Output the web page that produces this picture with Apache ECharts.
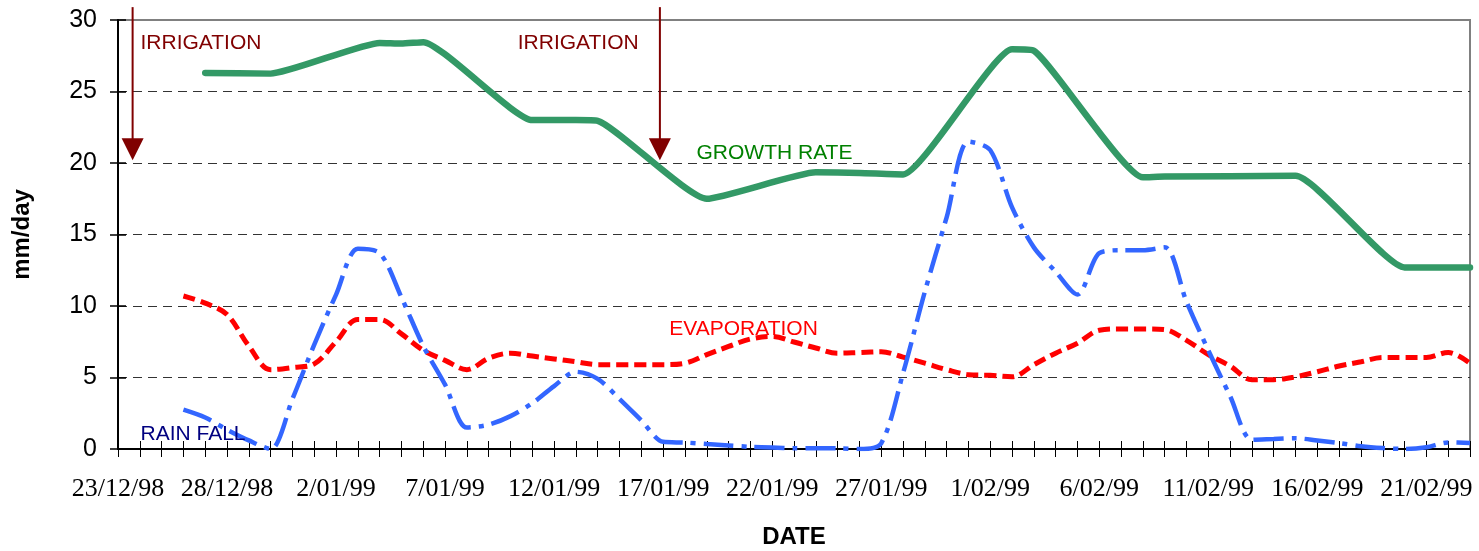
<!DOCTYPE html>
<html>
<head>
<meta charset="utf-8">
<script src="https://cdn.jsdelivr.net/npm/echarts@6/dist/echarts.min.js"></script>
<style>
html,body{margin:0;padding:0;background:#fff;}
#chart{width:1479px;height:551px;}
</style>
</head>
<body>
<div id="chart"></div>
<script>
// ---------- DATA ----------
const dates = [
 '23/12/98','24/12/98','25/12/98','26/12/98','27/12/98','28/12/98','29/12/98','30/12/98','31/12/98',
 '1/01/99','2/01/99','3/01/99','4/01/99','5/01/99','6/01/99','7/01/99','8/01/99','9/01/99','10/01/99',
 '11/01/99','12/01/99','13/01/99','14/01/99','15/01/99','16/01/99','17/01/99','18/01/99','19/01/99','20/01/99',
 '21/01/99','22/01/99','23/01/99','24/01/99','25/01/99','26/01/99','27/01/99','28/01/99','29/01/99','30/01/99','31/01/99',
 '1/02/99','2/02/99','3/02/99','4/02/99','5/02/99','6/02/99','7/02/99','8/02/99','9/02/99','10/02/99',
 '11/02/99','12/02/99','13/02/99','14/02/99','15/02/99','16/02/99','17/02/99','18/02/99','19/02/99','20/02/99',
 '21/02/99','22/02/99','23/02/99'
];

const growthDates = ['27/12/98','30/12/98','4/01/99','5/01/99','6/01/99','11/01/99','13/01/99','14/01/99',
 '19/01/99','24/01/99','26/01/99','28/01/99','2/02/99','3/02/99','8/02/99','9/02/99','15/02/99','20/02/99','23/02/99'];
const growthRate = [26.3, 26.25, 28.4, 28.35, 28.45, 23.0, 23.0, 22.95,
 17.5, 19.35, 19.3, 19.2, 27.95, 27.85, 19.0, 19.05, 19.1, 12.7, 12.7];

// daily values from 26/12/98 to 23/02/99
const dailyDates = dates.slice(3);
const evaporation = [10.7, 10.2, 9.4, 7.2, 5.55, 5.7, 5.95, 7.5, 9.05, 9.05,
 8.05, 6.9, 6.2, 5.55, 6.35, 6.7, 6.5, 6.3, 6.1, 5.9,
 5.9, 5.9, 5.9, 6.0, 6.6, 7.17, 7.69, 7.87, 7.48, 7.06,
 6.7, 6.75, 6.8, 6.43, 6.0, 5.55, 5.2, 5.15, 5.05, 5.9,
 6.7, 7.4, 8.3, 8.4, 8.4, 8.35, 7.6, 6.6, 5.8, 4.85,
 4.85, 5.05, 5.4, 5.8, 6.1, 6.4, 6.4, 6.4, 6.75, 6.0];
const rainFall = [2.75, 2.2, 1.35, 0.6, 0.0, 3.5, 7.3, 10.8, 14.0, 13.7,
 10.6, 7.2, 4.5, 1.5, 1.7, 2.3, 3.2, 4.4, 5.4, 4.9,
 3.5, 2.0, 0.5, 0.45, 0.35, 0.25, 0.15, 0.1, 0.05, 0.05,
 0.05, 0.0, 0.4, 5.3, 11.0, 16.2, 21.5, 20.9, 16.9, 14.1,
 12.4, 10.8, 13.7, 13.9, 13.9, 14.1, 10.3, 6.9, 3.7, 0.65,
 0.7, 0.75, 0.6, 0.42, 0.2, 0.07, 0.0, 0.12, 0.46, 0.42];

const yTicks = [0, 5, 10, 15, 20, 25, 30];

// annotations in data space: [categoryIndex, value]
const arrows = [
  {x: 0.67, top: 30.9, tip: 20.2},
  {x: 24.85, top: 30.9, tip: 20.2}
];
const labels = [
  {text: 'IRRIGATION', x: 1.03, y: 28.4, color: '#800000'},
  {text: 'IRRIGATION', x: 18.33, y: 28.4, color: '#800000'},
  {text: 'GROWTH RATE', x: 26.53, y: 20.7, color: '#008000'},
  {text: 'EVAPORATION', x: 25.28, y: 8.37, color: '#FF0000'},
  {text: 'RAIN FALL', x: 1.03, y: 1.03, color: '#000080'}
];

// ---------- CHART ----------
const chart = echarts.init(document.getElementById('chart'), null, {renderer: 'canvas'});
const sans = 'Liberation Sans, Arial, sans-serif';
const serif = 'Liberation Serif, Times New Roman, serif';

const option = {
  animation: false,
  backgroundColor: '#fff',
  grid: {left: 118, right: 9, top: 20, bottom: 102, show: true, borderColor: '#808080', borderWidth: 2,
    containLabel: false, outerBoundsMode: 'none'},
  xAxis: [{
    type: 'category', data: dates, boundaryGap: false, position: 'bottom',
    axisLine: {show: true, onZero: false, lineStyle: {color: '#000', width: 2}},
    axisTick: {show: true, interval: 0, length: 8, inside: false, lineStyle: {color: '#000', width: 1}},
    axisLabel: {interval: 4, margin: 27, fontFamily: serif, fontSize: 26, color: '#000', hideOverlap: false},
    splitLine: {show: false},
    name: 'DATE', nameLocation: 'middle', nameGap: 76,
    nameTextStyle: {fontFamily: sans, fontSize: 24, fontWeight: 'bold', color: '#000'}
  }, {
    type: 'category', data: dates, boundaryGap: false, position: 'bottom',
    axisLine: {show: false, onZero: false},
    axisTick: {show: true, interval: 0, length: 8, inside: true, lineStyle: {color: '#000', width: 1}},
    axisLabel: {show: false}, splitLine: {show: false}
  }],
  yAxis: [{
    type: 'value', min: 0, max: 30, interval: 5, position: 'left',
    axisLine: {show: true, lineStyle: {color: '#000', width: 2}},
    axisTick: {show: true, length: 8, inside: false, lineStyle: {color: '#000', width: 1.5}},
    axisLabel: {margin: 21, fontFamily: sans, fontSize: 25, color: '#000',
      formatter: v => yTicks.indexOf(v) >= 0 ? String(v) : ''},
    splitLine: {show: true, showMinLine: false, showMaxLine: false, lineStyle: {color: '#333', width: 1, type: [9, 6]}},
    name: 'mm/day', nameLocation: 'middle', nameGap: 84,
    nameTextStyle: {fontFamily: sans, fontSize: 24, fontWeight: 'bold', color: '#000'}
  }, {
    type: 'value', min: 0, max: 30, interval: 5, position: 'left',
    axisLine: {show: false},
    axisTick: {show: true, length: 8, inside: true, lineStyle: {color: '#000', width: 1.5}},
    axisLabel: {show: false}, splitLine: {show: false}
  }],
  series: [{
    name: 'GROWTH RATE', type: 'line', xAxisIndex: 0, yAxisIndex: 0,
    data: growthDates.map((d, i) => [d, growthRate[i]]),
    smooth: 0.15, symbol: 'none', z: 3,
    lineStyle: {color: '#339966', width: 6.5, cap: 'round', join: 'round'}
  }, {
    name: 'EVAPORATION', type: 'line', xAxisIndex: 0, yAxisIndex: 0,
    data: dailyDates.map((d, i) => [d, evaporation[i]]),
    smooth: 0.35, symbol: 'none', z: 2,
    lineStyle: {color: '#FF0000', width: 5, type: [12, 6]}
  }, {
    name: 'RAIN FALL', type: 'line', xAxisIndex: 0, yAxisIndex: 0,
    data: dailyDates.map((d, i) => [d, rainFall[i]]),
    smooth: 0.3, symbol: 'none', z: 2,
    lineStyle: {color: '#3366FF', width: 4.5, type: [30, 8, 5, 8]}
  }]
};
chart.setOption(option);

// annotations via axis conversion
function toPx(xIdx, val) {
  const p0 = chart.convertToPixel({xAxisIndex: 0}, dates[0]);
  const p1 = chart.convertToPixel({xAxisIndex: 0}, dates[1]);
  const y = chart.convertToPixel({yAxisIndex: 0}, val);
  return [p0 + (p1 - p0) * xIdx, y];
}
const graphics = [];
arrows.forEach(a => {
  const t = toPx(a.x, a.top), tip = toPx(a.x, a.tip);
  const headH = 22, halfW = 11;
  graphics.push({type: 'line', z: 10, shape: {x1: t[0], y1: t[1], x2: tip[0], y2: tip[1] - headH + 2},
    style: {stroke: '#800000', lineWidth: 2}});
  graphics.push({type: 'polygon', z: 10, shape: {points: [[tip[0] - halfW, tip[1] - headH], [tip[0] + halfW, tip[1] - headH], [tip[0], tip[1]]]},
    style: {fill: '#800000'}});
});
labels.forEach(l => {
  const p = toPx(l.x, l.y);
  graphics.push({type: 'text', z: 10, x: p[0], y: p[1],
    style: {text: l.text, fill: l.color, font: '21px ' + sans, textAlign: 'left', textVerticalAlign: 'middle'}});
});
chart.setOption({graphic: graphics});
</script>
</body>
</html>
